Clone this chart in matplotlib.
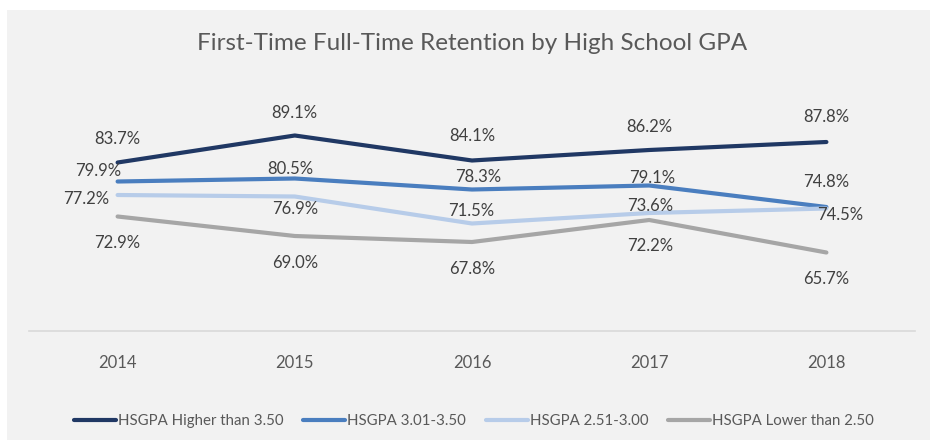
import matplotlib
matplotlib.use("Agg")
import matplotlib.pyplot as plt
from matplotlib.patches import Rectangle

years = ["2014", "2015", "2016", "2017", "2018"]
series_names = ["HSGPA Higher than 3.50", "HSGPA 3.01-3.50", "HSGPA 2.51-3.00", "HSGPA Lower than 2.50"]
higher_350 = [83.7, 89.1, 84.1, 86.2, 87.8]
gpa_301_350 = [79.9, 80.5, 78.3, 79.1, 74.8]
gpa_251_300 = [77.2, 76.9, 71.5, 73.6, 74.5]
lower_250 = [72.9, 69.0, 67.8, 72.2, 65.7]

colors = ["#203864", "#4a7ebf", "#b7cce9", "#a6a6a6"]
# label offsets in pixels (dx, dy with y up)
label_offsets = [
    [(0, 24), (0, 23), (0, 25), (0, 23), (0, 25)],
    [(-19, 11), (-4, 10), (6, 12), (3, 8), (0, 25)],
    [(-31, -4), (0, -13), (-1, 13), (1, 7), (14, -6)],
    [(0, -27), (0, -27), (0, -27), (1, -26), (0, -26)],
]

W, H = 930, 446
fig = plt.figure(figsize=(W / 100, H / 100), dpi=100)
fig.patch.set_facecolor("white")
fig.patches.append(Rectangle((7 / W, 1 - 440 / H), (W - 7) / W, (440 - 10) / H,
                             transform=fig.transFigure, facecolor="#f2f2f2",
                             edgecolor="none", zorder=-10))

font = ["Lato", "DejaVu Sans"]
ax = fig.add_axes([29 / W, 1 - 331 / H, 886 / W, 250 / H])
ax.set_zorder(2)
ax.set_facecolor("none")
x = list(range(len(years)))
all_series = [higher_350, gpa_301_350, gpa_251_300, lower_250]
for vals, name, col, offs in zip(all_series, series_names, colors, label_offsets):
    ax.plot(x, vals, color=col, lw=3.0, label=name,
            solid_capstyle="round", solid_joinstyle="round")
    for xi, v, (dx, dy) in zip(x, vals, offs):
        ax.annotate(f"{v:.1f}%", (xi, v), xytext=(dx, dy), textcoords="offset pixels",
                    ha="center", va="center", fontsize=12, color="#404040", family=font)

ax.set_xlim(-0.5, 4.5)
ax.set_ylim(50, 100)
ax.set_yticks([])
ax.set_xticks(x)
ax.set_xticklabels(years, family=font, fontsize=12, color="#595959")
ax.tick_params(axis="x", length=0, pad=17)
for s in ["top", "left", "right"]:
    ax.spines[s].set_visible(False)
ax.spines["bottom"].set_color("#d9d9d9")
ax.spines["bottom"].set_linewidth(1.2)

fig.text(472 / W, 1 - 43 / H, "First-Time Full-Time Retention by High School GPA",
         ha="center", va="center", fontsize=17.5, color="#595959", family=font)

handles, labels = ax.get_legend_handles_labels()
leg = fig.legend(handles, labels, loc="center", bbox_to_anchor=(474 / W, 1 - 421 / H),
                 ncol=4, frameon=False, handlelength=2.8, handletextpad=0.15,
                 columnspacing=1.3, prop={"family": font, "size": 10.8})
for t in leg.get_texts():
    t.set_color("#595959")

fig.savefig("out.png", dpi=100, facecolor=fig.get_facecolor())
